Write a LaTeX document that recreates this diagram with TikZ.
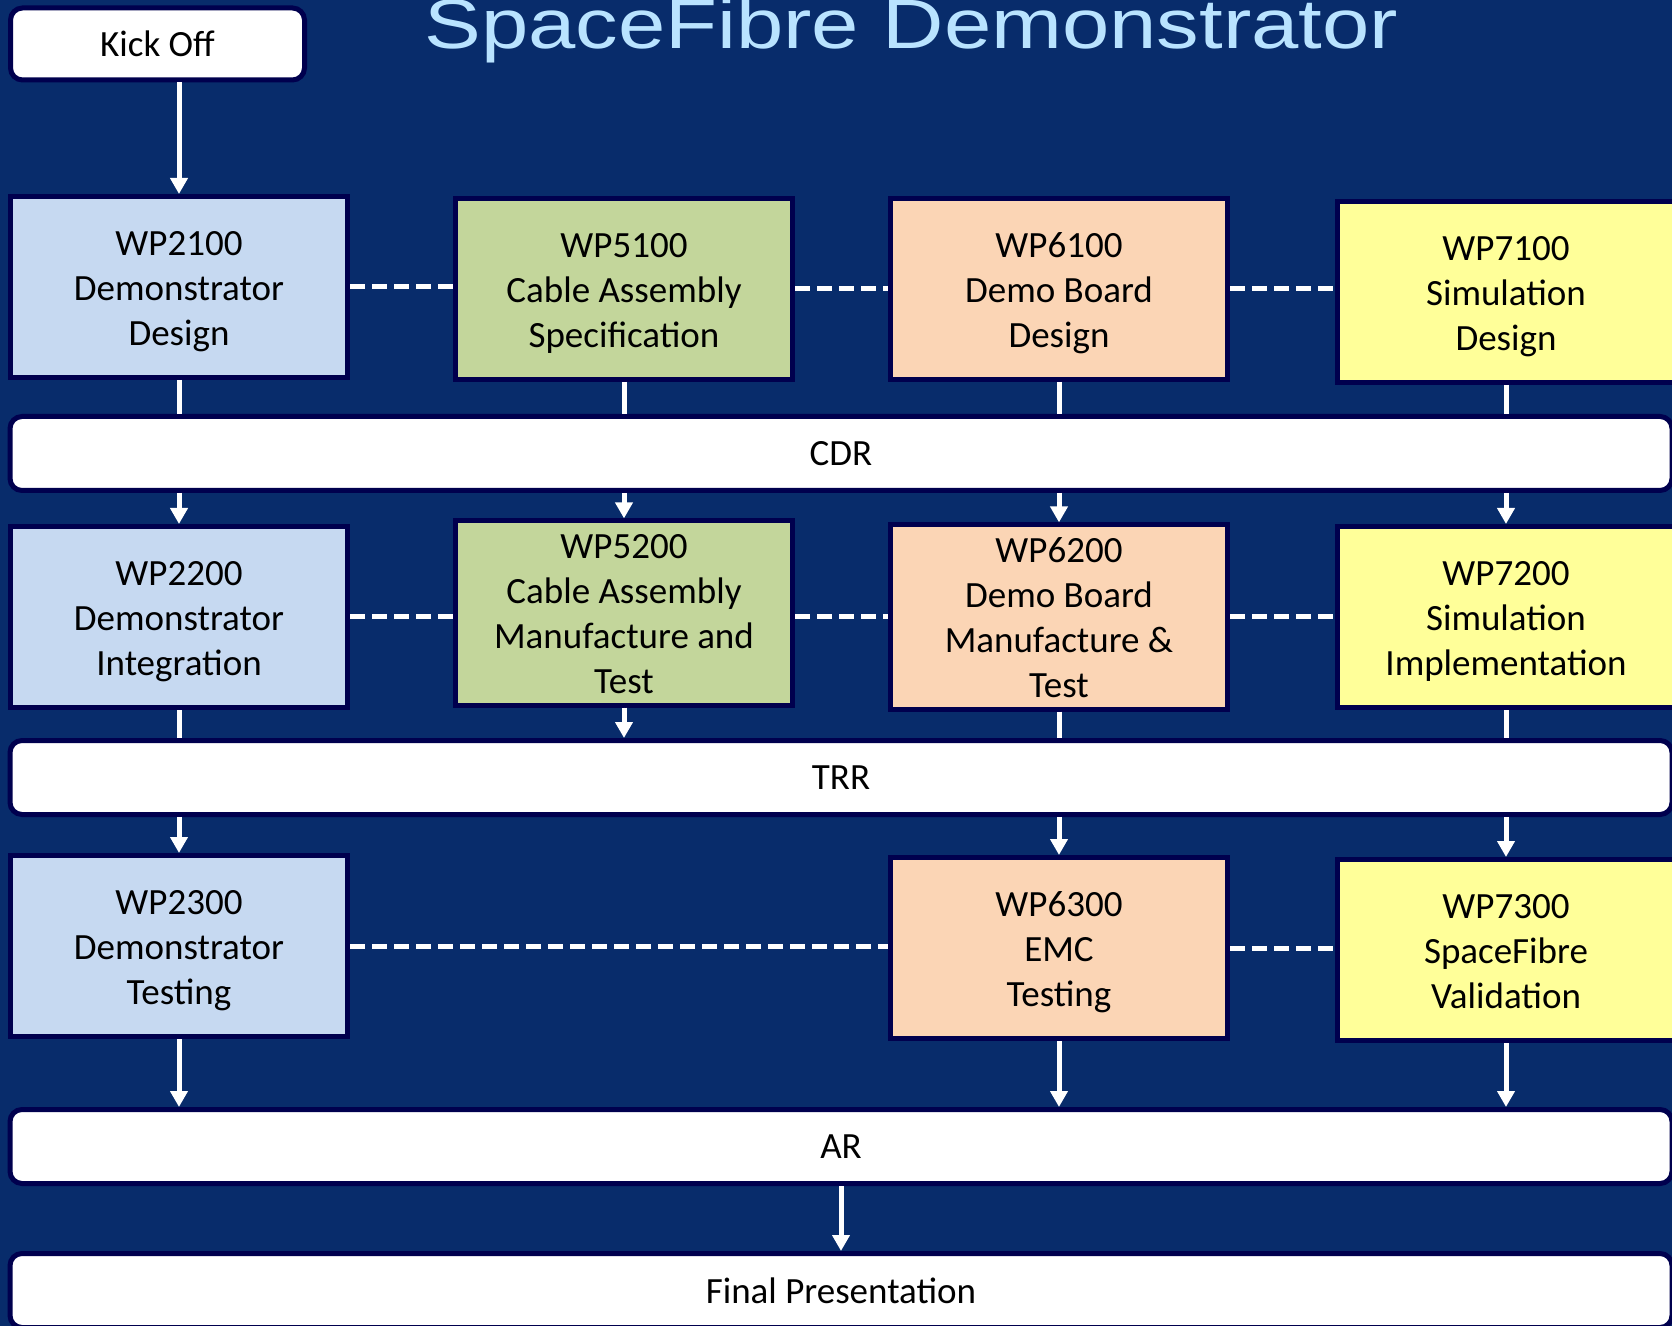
\documentclass[tikz,border=0pt]{standalone}
\usepackage{graphicx}
\usepackage{fontspec}
\setmainfont{Carlito}
\newfontfamily\titlefont{Liberation Sans}
\usetikzlibrary{arrows.meta}
\definecolor{bg}{HTML}{082C6B}
\definecolor{bord}{HTML}{00004E}
\definecolor{cblue}{HTML}{C6D9F1}
\definecolor{cgreen}{HTML}{C3D69B}
\definecolor{corange}{HTML}{FBD5B5}
\definecolor{cyellow}{HTML}{FFFF99}
\definecolor{ctitle}{HTML}{B9E3FF}
\newdimen\pu \pu=0.5pt
\newcommand\wpstrut{\rule{0pt}{19pt}}
\begin{document}
\begin{tikzpicture}[x=0.5pt,y=-0.5pt,
  wp/.style={draw=bord, line width=5\pu, minimum width=337\pu, minimum height=181\pu,
    inner sep=0pt, align=center, text=black, font=\fontsize{18.5}{22.5}\selectfont,
    execute at end node={\rule[-5.6pt]{0pt}{5.6pt}}},
  bar/.style={draw=bord, fill=white, line width=5\pu, rounded corners=12\pu,
    minimum width=1662\pu, minimum height=74\pu, inner sep=0pt, text=black,
    font=\fontsize{18.5}{22.5}\selectfont},
  link/.style={draw=white, line width=2.5pt},
  arr/.style={draw=white, line width=2.5pt, -{Triangle[width=8.5pt,length=8pt]}, fill=white},
  dline/.style={draw=white, line width=2.5pt, dash pattern=on 7.5pt off 3.5pt},
]
\useasboundingbox (0,0) rectangle (1672,1326);
\clip (0,0) rectangle (1672,1326);
\fill[bg] (0,0) rectangle (1672,1326);

% title
\node[anchor=base west, inner sep=0pt, text=ctitle, font=\titlefont\fontsize{35}{40}\selectfont]
  (title) at (424,49) {\scalebox{1.215}[1]{SpaceFibre Demonstrator}};

% kick off
\node[bar, minimum width=294\pu, minimum height=72\pu] (ko) at (157.5,44) {Kick Off};

% row 1
\node[wp, fill=cblue]   (w21) at (179,287)  {\wpstrut WP2100\\Demonstrator\\Design};
\node[wp, fill=cgreen]  (w51) at (624,289)  {\wpstrut WP5100\\Cable Assembly\\Specification};
\node[wp, fill=corange] (w61) at (1059,289) {\wpstrut WP6100\\Demo Board\\Design};
\node[wp, fill=cyellow] (w71) at (1506,292) {\wpstrut WP7100\\Simulation\\Design};

% row 2
\node[wp, fill=cblue]   (w22) at (179,617)  {\wpstrut WP2200\\Demonstrator\\Integration};
\node[wp, fill=cgreen]  (w52) at (624,613)  {\wpstrut WP5200\\Cable Assembly\\Manufacture and\\Test};
\node[wp, fill=corange] (w62) at (1059,617) {\wpstrut WP6200\\Demo Board\\Manufacture \&\\Test};
\node[wp, fill=cyellow] (w72) at (1506,617) {\wpstrut WP7200\\Simulation\\Implementation};

% row 3
\node[wp, fill=cblue]   (w23) at (179,946)  {\wpstrut WP2300\\Demonstrator\\Testing};
\node[wp, fill=corange] (w63) at (1059,948) {\wpstrut WP6300\\EMC\\Testing};
\node[wp, fill=cyellow] (w73) at (1506,950) {\wpstrut WP7300\\SpaceFibre\\Validation};

% review bars
\node[bar] (cdr) at (841,453.5)  {CDR};
\node[bar] (trr) at (841,777.5)  {TRR};
\node[bar] (ar)  at (841,1146.5) {AR};
\node[bar] (fp)  at (841,1290.5) {Final Presentation};

% vertical connectors
\draw[arr] (ko.south -| w21.north) -- (w21.north);
\foreach \n in {w21,w51,w61,w71} \draw[link] (\n.south) -- (\n.south |- cdr.north);
\foreach \n in {w22,w52,w62,w72} \draw[arr] (\n.north |- cdr.south) -- (\n.north);
\foreach \n in {w22,w62,w72} \draw[link] (\n.south) -- (\n.south |- trr.north);
\draw[arr] (w52.south) -- (w52.south |- trr.north);
\foreach \n in {w23,w63,w73} \draw[arr] (\n.north |- trr.south) -- (\n.north);
\foreach \n in {w23,w63,w73} \draw[arr] (\n.south) -- (\n.south |- ar.north);
\draw[arr] (ar.south) -- (fp.north);

% dashed links
\draw[dline] (w21.east) -- (w21.east -| w51.west);
\draw[dline] (w51.east) -- (w51.east -| w61.west);
\draw[dline] (w61.east) -- (w61.east -| w71.west);
\draw[dline] (w22.east) -- (w22.east -| w52.west);
\draw[dline] (w62.west -| w52.east) -- (w62.west);
\draw[dline] (w62.east) -- (w62.east -| w72.west);
\draw[dline] (w23.east) -- (w23.east -| w63.west);
\draw[dline] (w63.east) -- (w63.east -| w73.west);
\end{tikzpicture}
\end{document}
